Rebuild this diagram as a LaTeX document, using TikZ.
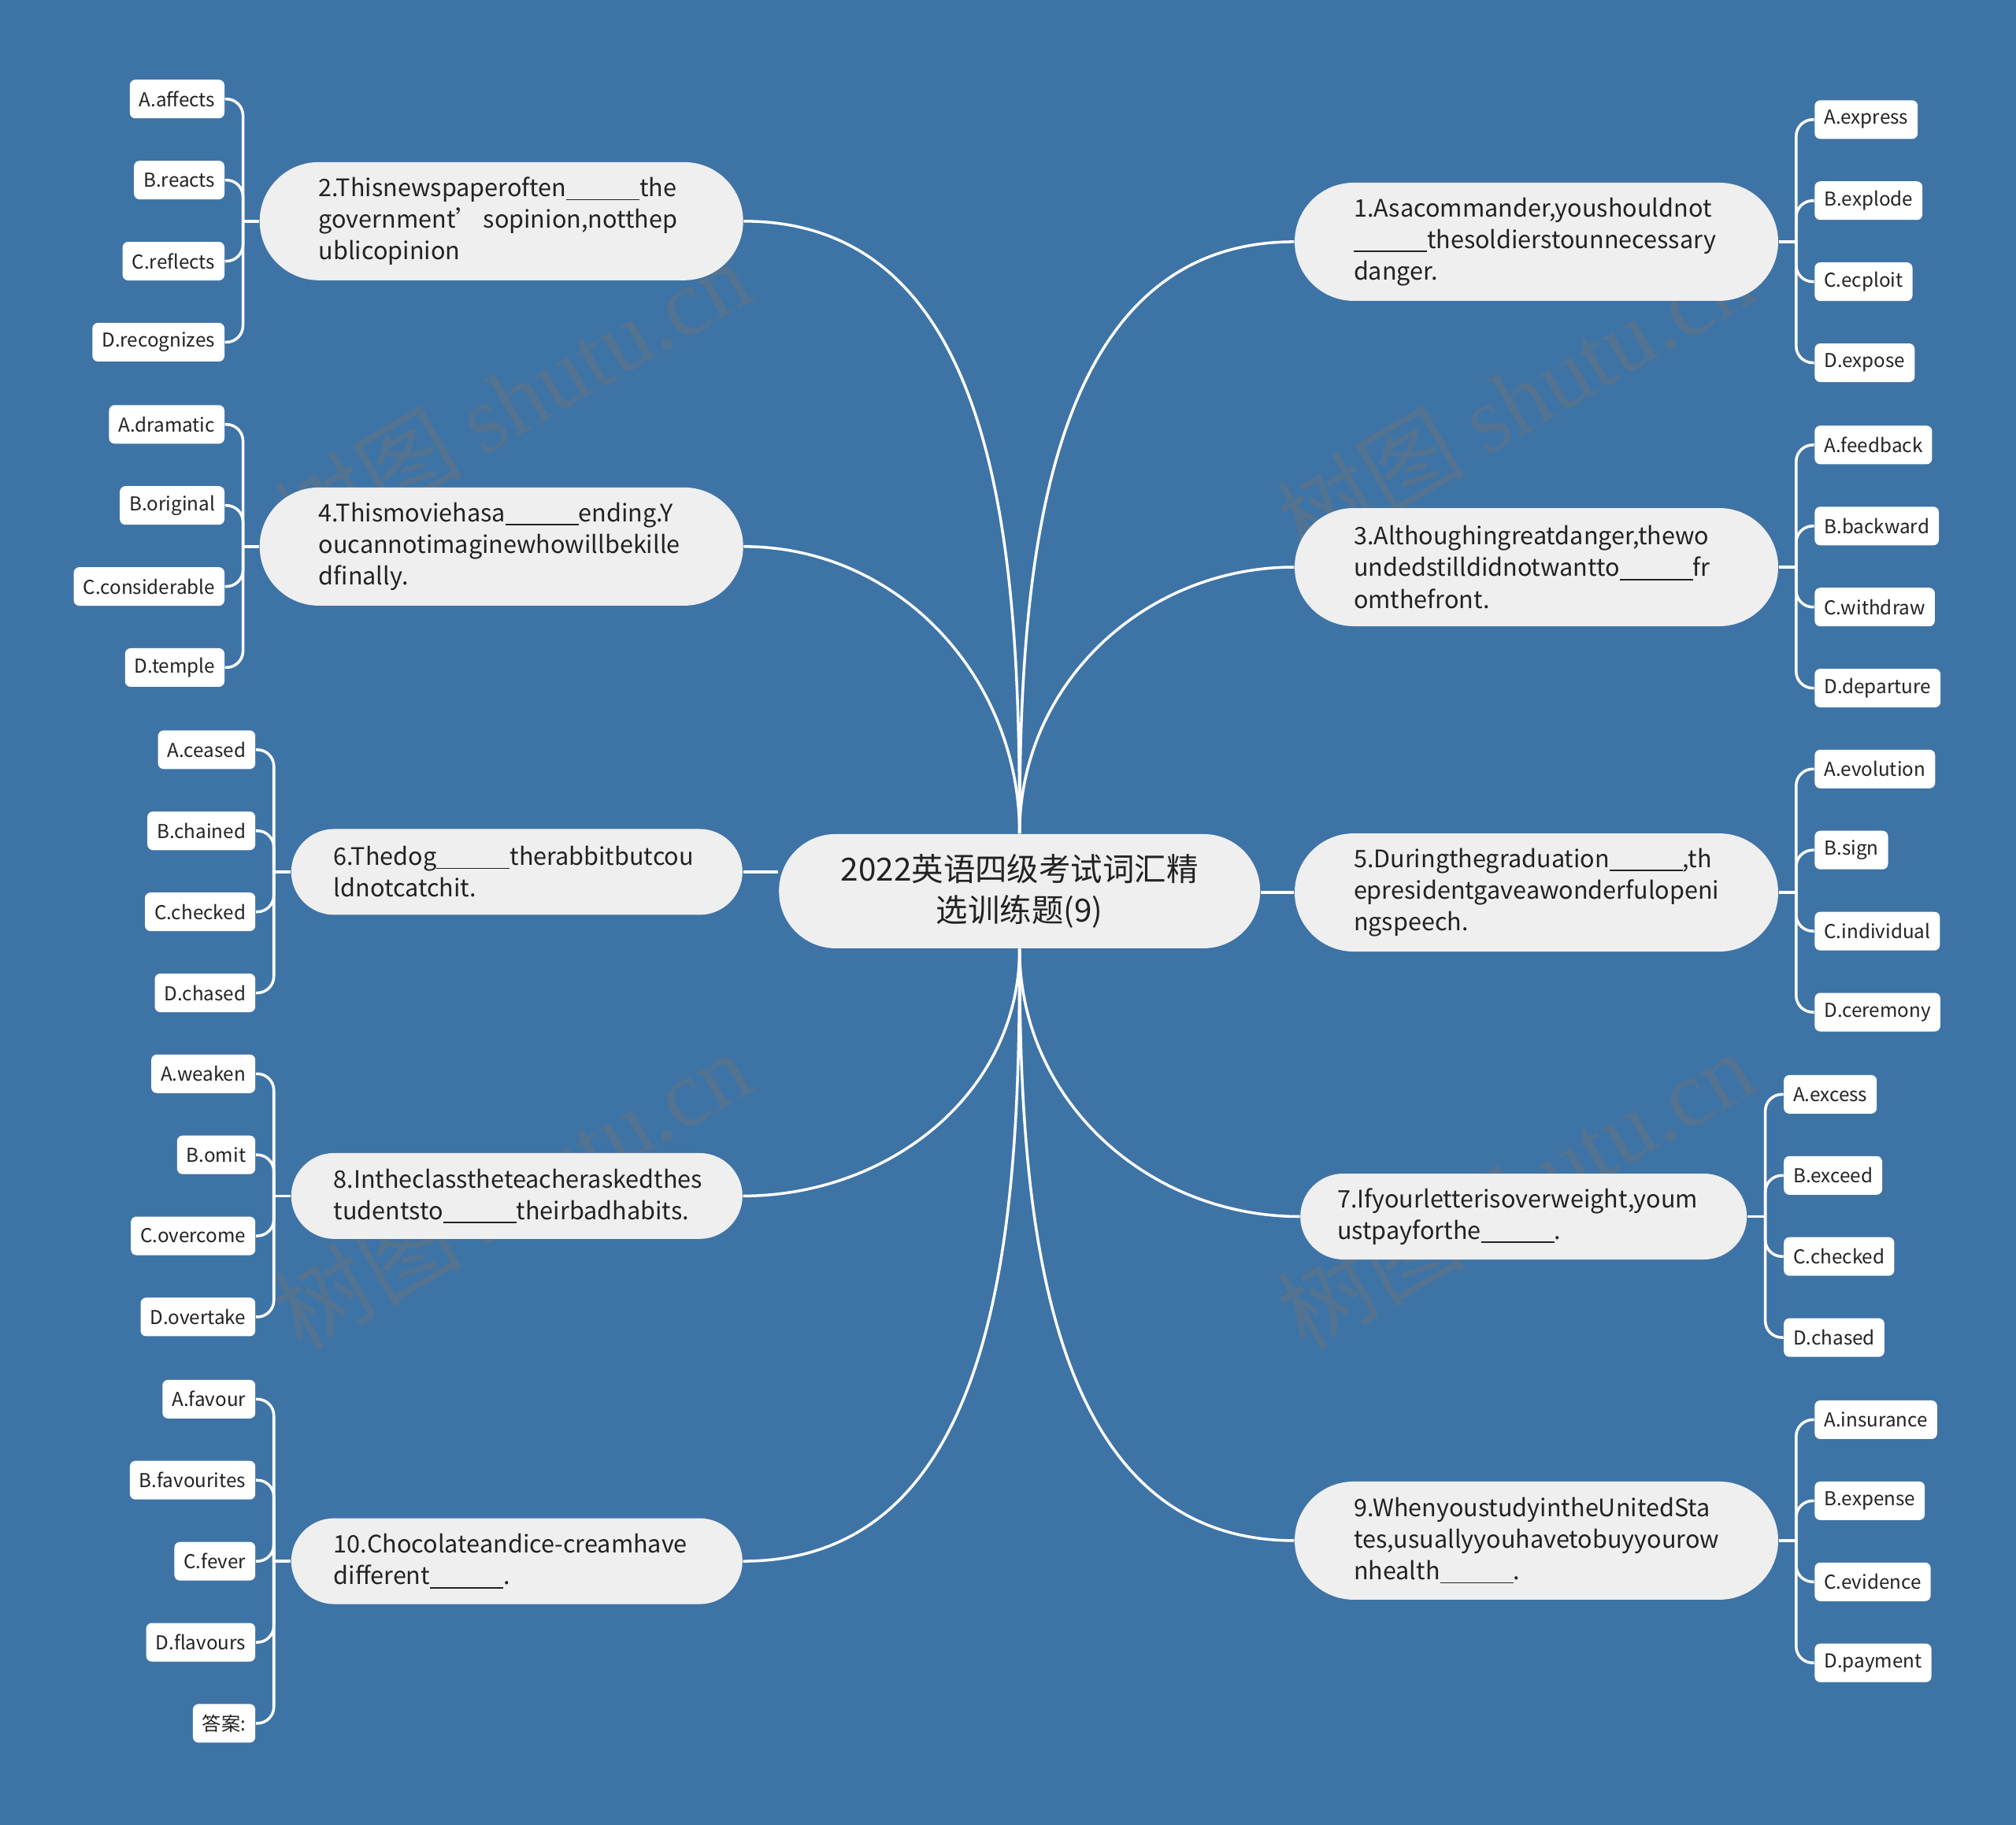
\documentclass[tikz,border=0pt]{standalone}
\usepackage{fontspec}
\setmainfont{Noto Sans CJK SC}
\newfontfamily\wmfont{Liberation Serif}
\usetikzlibrary{positioning}
\definecolor{bgblue}{HTML}{3E73A6}
\definecolor{pill}{HTML}{EFEFEF}
\definecolor{ink}{HTML}{222222}
\newcommand{\gap}{\rule[-0.15em]{0.93cm}{0.45pt}}
\newcommand{\nohyph}{\hyphenpenalty=10000 \exhyphenpenalty=10000\relax}

\begin{document}
\begin{tikzpicture}[
  x=0.01633cm, y=0.01633cm, node distance=1.029cm,
  root/.style={fill=pill, rounded corners=0.72cm, minimum width=6.11cm,
               minimum height=1.45cm, align=center, text=ink,
               font=\fontsize{11.5}{14.9}\selectfont},
  ques/.style={fill=pill, rounded corners=0.75cm, minimum height=1.5cm,
               text width=4.64cm, inner xsep=0.75cm, align=left, text=ink,
               font=\fontsize{8.7}{11.4}\selectfont\nohyph},
  short/.style={ques, rounded corners=0.545cm, minimum height=1.09cm,
                text width=4.65cm, inner xsep=0.54cm},
  opt/.style={fill=white, rounded corners=2pt, minimum height=0.49cm,
              inner xsep=0.12cm, inner ysep=0pt, text=ink,
              font=\fontsize{6.9}{8}\selectfont},
  link/.style={draw=white, line width=1pt},
  bracket/.style={link, rounded corners=6pt},
  wmark/.style={rotate=30, text=black!55, opacity=0.4,
                font=\fontsize{34}{34}\selectfont}
]
\fill[bgblue] (0,0) rectangle (1568,-1419);

% watermark
\node[wmark] (w1) at (398,-310) {树图 {\wmfont shutu.cn}};
\node[wmark] (w2) at (1178,-310) {树图 {\wmfont shutu.cn}};
\node[wmark] (w3) at (398,-925) {树图 {\wmfont shutu.cn}};
\node[wmark] (w4) at (1178,-925) {树图 {\wmfont shutu.cn}};

% centre and questions
\node[root] (c) at (793,-693) {2022英语四级考试词汇精\\选训练题(9)};
\node[ques] (q1) at (1195,-188) {1.Asacommander,youshouldnot\\\gap thesoldierstounnecessary\\danger.};
\node[ques] (q3) at (1195,-441) {3.Althoughingreatdanger,thewo\\undedstilldidnotwantto\gap fr\\omthefront.};
\node[ques] (q5) at (1195,-694) {5.Duringthegraduation\gap,th\\epresidentgaveawonderfulopeni\\ngspeech.};
\node[short, inner xsep=0.47cm, text width=4.73cm] (q7) at (1185,-946) {7.Ifyourletterisoverweight,youm\\ustpayforthe\gap.};
\node[ques] (q9) at (1195,-1198) {9.WhenyoustudyintheUnitedSta\\tes,usuallyyouhavetobuyyourow\\nhealth\gap.};
\node[ques] (q2) at (390,-172) {2.Thisnewspaperoften\gap the\\\mbox{government’\hspace{0.15em}sopinion,notthep}\\ublicopinion};
\node[ques] (q4) at (390,-425) {4.Thismoviehasa\gap ending.Y\\oucannotimaginewhowillbekille\\dfinally.};
\node[short] (q6) at (402,-678) {6.Thedog\gap therabbitbutcou\\ldnotcatchit.};
\node[short] (q8) at (402,-930) {8.Intheclasstheteacheraskedthes\\tudentsto\gap theirbadhabits.};
\node[short] (q10) at (402,-1214) {10.Chocolateandice-creamhave\\different\gap.};

\draw[link] (c.north) to[out=90, in=180] (q1.west);
\draw[link] (c.north) to[out=90, in=180] (q3.west);
\draw[link] (c.east |- q5.west) -- (q5.west);
\draw[link] (c.south) to[out=-90, in=180] (q7.west);
\draw[link] (c.south) to[out=-90, in=180] (q9.west);
\draw[link] (c.north) to[out=90, in=0] (q2.east);
\draw[link] (c.north) to[out=90, in=0] (q4.east);
\draw[link] (q6.east) -- (q6.east -| c.west);
\draw[link] (c.south) to[out=-90, in=0] (q8.east);
\draw[link] (c.south) to[out=-90, in=0] (q10.east);

% options, right side
\node[opt, anchor=west] (o1a) at (1411,-93) {A.express};
\node[opt, below=of o1a.west, anchor=west] (o1b) {B.explode};
\node[opt, below=of o1b.west, anchor=west] (o1c) {C.ecploit};
\node[opt, below=of o1c.west, anchor=west] (o1d) {D.expose};

\node[opt, anchor=west] (o3a) at (1411,-346) {A.feedback};
\node[opt, below=of o3a.west, anchor=west] (o3b) {B.backward};
\node[opt, below=of o3b.west, anchor=west] (o3c) {C.withdraw};
\node[opt, below=of o3c.west, anchor=west] (o3d) {D.departure};

\node[opt, anchor=west] (o5a) at (1411,-598) {A.evolution};
\node[opt, below=of o5a.west, anchor=west] (o5b) {B.sign};
\node[opt, below=of o5b.west, anchor=west] (o5c) {C.individual};
\node[opt, below=of o5c.west, anchor=west] (o5d) {D.ceremony};

\node[opt, anchor=west] (o7a) at (1387,-851) {A.excess};
\node[opt, below=of o7a.west, anchor=west] (o7b) {B.exceed};
\node[opt, below=of o7b.west, anchor=west] (o7c) {C.checked};
\node[opt, below=of o7c.west, anchor=west] (o7d) {D.chased};

\node[opt, anchor=west] (o9a) at (1411,-1104) {A.insurance};
\node[opt, below=of o9a.west, anchor=west] (o9b) {B.expense};
\node[opt, below=of o9b.west, anchor=west] (o9c) {C.evidence};
\node[opt, below=of o9c.west, anchor=west] (o9d) {D.payment};

% options, left side
\node[opt, anchor=east] (o2a) at (175,-77) {A.affects};
\node[opt, below=of o2a.east, anchor=east] (o2b) {B.reacts};
\node[opt, below=of o2b.east, anchor=east] (o2c) {C.reflects};
\node[opt, below=of o2c.east, anchor=east] (o2d) {D.recognizes};

\node[opt, anchor=east] (o4a) at (175,-330) {A.dramatic};
\node[opt, below=of o4a.east, anchor=east] (o4b) {B.original};
\node[opt, below=of o4b.east, anchor=east] (o4c) {C.considerable};
\node[opt, below=of o4c.east, anchor=east] (o4d) {D.temple};

\node[opt, anchor=east] (o6a) at (199,-583) {A.ceased};
\node[opt, below=of o6a.east, anchor=east] (o6b) {B.chained};
\node[opt, below=of o6b.east, anchor=east] (o6c) {C.checked};
\node[opt, below=of o6c.east, anchor=east] (o6d) {D.chased};

\node[opt, anchor=east] (o8a) at (199,-835) {A.weaken};
\node[opt, below=of o8a.east, anchor=east] (o8b) {B.omit};
\node[opt, below=of o8b.east, anchor=east] (o8c) {C.overcome};
\node[opt, below=of o8c.east, anchor=east] (o8d) {D.overtake};

\node[opt, anchor=east] (o10a) at (199,-1088) {A.favour};
\node[opt, below=of o10a.east, anchor=east] (o10b) {B.favourites};
\node[opt, below=of o10b.east, anchor=east] (o10c) {C.fever};
\node[opt, below=of o10c.east, anchor=east] (o10d) {D.flavours};
\node[opt, below=of o10d.east, anchor=east] (o10e) {答案:};

% brackets
\coordinate (j1) at (1397,-188);
\coordinate (j3) at (1397,-441);
\coordinate (j5) at (1397,-694);
\coordinate (j7) at (1373,-946);
\coordinate (j9) at (1397,-1198);
\coordinate (j2) at (189,-172);
\coordinate (j4) at (189,-425);
\coordinate (j6) at (213,-678);
\coordinate (j8) at (213,-930);
\coordinate (j10) at (213,-1214);

\foreach \q in {1,3,5,7,9} {
  \draw[link] (q\q.east) -- (j\q);
  \foreach \k in {a,b,c,d}
    \draw[bracket] (j\q) |- (o\q\k.west);
}
\foreach \q in {2,4,6,8} {
  \draw[link] (q\q.west) -- (j\q);
  \foreach \k in {a,b,c,d}
    \draw[bracket] (j\q) |- (o\q\k.east);
}
\draw[link] (q10.west) -- (j10);
\foreach \k in {a,b,c,d,e}
  \draw[bracket] (j10) |- (o10\k.east);
\end{tikzpicture}
\end{document}
